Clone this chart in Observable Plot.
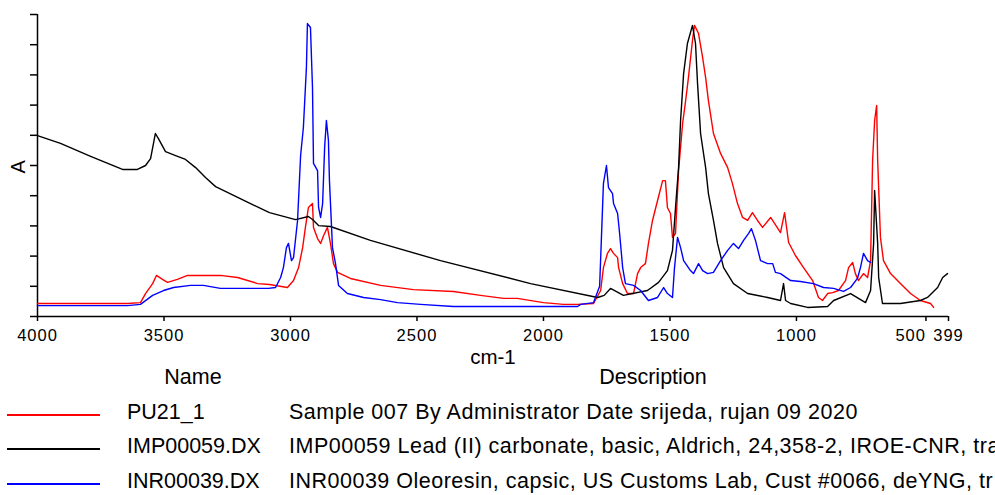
<!DOCTYPE html>
<html>
<head>
<meta charset="utf-8">
<script src="https://cdn.jsdelivr.net/npm/d3@7"></script>
<script src="https://cdn.jsdelivr.net/npm/@observablehq/plot@0.6"></script>
<style>
  body { margin: 0; background: #fff; }
  #wrap { position: relative; width: 995px; height: 495px; overflow: hidden;
          font-family: "Liberation Sans", Arial, sans-serif; color: #000; background: #fff; }
  #wrap svg [aria-label="x-axis tick label"] { letter-spacing: 1px; }
  .lg { position: absolute; white-space: nowrap; font-size: 21.5px; line-height: 21.5px; }
  .lg.desc { letter-spacing: 0.5px; }
  .sw { position: absolute; height: 0; border-top: 2px solid; }
</style>
</head>
<body>
<div id="wrap"></div>
<script>
// ---- Data (wavenumber cm-1, absorbance) ----
const seriesNames = ["PU21_1", "IMP00059.DX", "INR00039.DX"];
const seriesDescriptions = [
  "Sample 007 By Administrator Date srijeda, rujan 09 2020",
  "IMP00059 Lead (II) carbonate, basic, Aldrich, 24,358-2, IROE-CNR, tra",
  "INR00039 Oleoresin, capsic, US Customs Lab, Cust #0066, deYNG, tr"
];
const seriesColors = ["#ff0000", "#000000", "#0000ff"];

const xTickValues = [4000, 3500, 3000, 2500, 2000, 1500, 1000, 500, 399];
const yTickValues = [0, 0.1, 0.2, 0.3, 0.4, 0.5, 0.6, 0.7, 0.8, 0.9, 1.0];

const pu21 = [
  [4000,0.043],[3644,0.043],[3593,0.046],[3573,0.076],[3545,0.109],[3530,0.136],[3506,0.123],[3486,0.113],
  [3447,0.123],[3407,0.136],[3277,0.136],[3209,0.129],[3130,0.109],[3083,0.106],[3012,0.096],[2988,0.119],
  [2968,0.162],[2952,0.228],[2941,0.295],[2929,0.361],[2913,0.374],[2909,0.295],[2893,0.258],[2881,0.242],
  [2869,0.268],[2854,0.295],[2842,0.242],[2830,0.175],[2814,0.146],[2763,0.126],[2644,0.103],[2514,0.089],
  [2356,0.083],[2249,0.070],[2158,0.060],[2103,0.060],[2000,0.046],[1921,0.040],[1865,0.040],[1802,0.043],
  [1774,0.086],[1763,0.162],[1747,0.209],[1735,0.225],[1723,0.209],[1707,0.195],[1703,0.162],[1687,0.109],
  [1668,0.076],[1644,0.076],[1628,0.142],[1616,0.162],[1597,0.175],[1585,0.242],[1569,0.318],[1549,0.384],
  [1529,0.450],[1518,0.450],[1510,0.361],[1498,0.341],[1490,0.262],[1478,0.275],[1466,0.483],[1450,0.639],
  [1438,0.715],[1427,0.791],[1411,0.914],[1403,0.964],[1387,0.937],[1371,0.858],[1359,0.791],[1348,0.715],
  [1328,0.606],[1300,0.540],[1272,0.493],[1253,0.440],[1233,0.374],[1213,0.328],[1193,0.318],[1174,0.344],
  [1154,0.318],[1134,0.295],[1102,0.328],[1063,0.278],[1047,0.344],[1031,0.245],[1004,0.202],[972,0.162],
  [936,0.119],[913,0.063],[897,0.053],[877,0.076],[857,0.079],[834,0.086],[806,0.119],[794,0.162],
  [778,0.179],[767,0.142],[755,0.119],[735,0.142],[719,0.129],[707,0.185],[699,0.517],[691,0.649],
  [683,0.699],[679,0.517],[668,0.262],[656,0.185],[628,0.142],[589,0.109],[549,0.076],[510,0.053],
  [470,0.043],[458,0.030]
];

const imp00059 = [
  [4000,0.599],[3909,0.573],[3790,0.530],[3664,0.487],[3605,0.487],[3573,0.500],[3553,0.523],[3534,0.606],
  [3522,0.589],[3494,0.546],[3454,0.533],[3415,0.520],[3375,0.493],[3336,0.460],[3296,0.430],[3158,0.374],
  [3083,0.344],[2980,0.321],[2929,0.331],[2913,0.321],[2889,0.301],[2842,0.298],[2684,0.252],[2407,0.185],
  [2051,0.109],[1786,0.063],[1760,0.070],[1735,0.093],[1684,0.070],[1589,0.086],[1545,0.113],[1510,0.152],
  [1490,0.219],[1478,0.361],[1466,0.493],[1458,0.649],[1446,0.805],[1431,0.904],[1411,0.964],[1399,0.904],
  [1391,0.772],[1379,0.606],[1359,0.493],[1348,0.407],[1328,0.318],[1312,0.242],[1288,0.162],[1249,0.109],
  [1193,0.076],[1114,0.063],[1063,0.053],[1051,0.109],[1043,0.053],[1023,0.043],[956,0.030],[877,0.033],
  [853,0.053],[786,0.076],[727,0.046],[707,0.086],[695,0.242],[691,0.417],[679,0.242],[675,0.129],
  [660,0.043],[589,0.043],[510,0.053],[482,0.063],[442,0.096],[422,0.129],[403,0.142]
];

const inr00039 = [
  [4000,0.036],[3644,0.036],[3593,0.040],[3545,0.070],[3502,0.086],[3462,0.096],[3395,0.103],[3344,0.103],
  [3277,0.093],[3087,0.093],[3059,0.096],[3039,0.129],[3028,0.162],[3016,0.228],[3008,0.242],[2996,0.185],
  [2988,0.195],[2972,0.318],[2960,0.533],[2949,0.626],[2937,0.825],[2933,0.970],[2921,0.957],[2913,0.758],
  [2909,0.507],[2893,0.483],[2889,0.361],[2881,0.328],[2873,0.374],[2865,0.560],[2858,0.649],[2850,0.583],
  [2846,0.450],[2834,0.228],[2822,0.175],[2810,0.103],[2775,0.076],[2711,0.063],[2644,0.056],[2577,0.046],
  [2486,0.040],[2356,0.033],[1865,0.033],[1853,0.040],[1802,0.046],[1778,0.100],[1763,0.440],[1751,0.500],
  [1743,0.427],[1727,0.407],[1723,0.374],[1707,0.341],[1699,0.275],[1687,0.162],[1676,0.109],[1644,0.103],
  [1616,0.086],[1585,0.053],[1549,0.063],[1525,0.096],[1510,0.076],[1490,0.063],[1482,0.162],[1470,0.262],
  [1458,0.228],[1446,0.185],[1419,0.152],[1407,0.142],[1387,0.175],[1371,0.152],[1351,0.142],[1328,0.146],
  [1300,0.185],[1272,0.219],[1249,0.242],[1229,0.225],[1209,0.252],[1189,0.275],[1178,0.291],[1162,0.252],
  [1142,0.185],[1114,0.175],[1094,0.175],[1083,0.146],[1063,0.142],[1023,0.119],[984,0.116],[933,0.109],
  [893,0.096],[853,0.093],[814,0.083],[786,0.096],[759,0.126],[747,0.162],[735,0.209],[719,0.185],[707,0.179]
];

const seriesData = [pu21, imp00059, inr00039];

// ---- Chart ----
const font = '"Liberation Sans", Arial, sans-serif';
const chart = Plot.plot({
  width: 995,
  height: 370,
  marginLeft: 37,
  marginRight: 47,
  marginTop: 14,
  marginBottom: 54,
  style: { fontFamily: font, fontSize: "16.5px", color: "#000", background: "#fff", overflow: "visible" },
  x: { domain: [4000, 399] },
  y: { domain: [0, 1] },
  marks: [
    Plot.axisY({ ticks: yTickValues, tickSize: 7, tickFormat: () => "", label: null, strokeWidth: 1.5 }),
    Plot.axisX({ ticks: xTickValues.filter(t => t !== 500), tickSize: 5, tickPadding: 8,
                 tickFormat: d => String(d), label: null, strokeWidth: 1.5 }),
    Plot.axisX({ ticks: [500], tickSize: 5, tickPadding: 8, textAnchor: "end", dx: 3,
                 tickFormat: d => String(d), label: null, strokeWidth: 1.5 }),
    Plot.ruleY([0], { strokeWidth: 1.5 }),
    Plot.ruleX([4000], { strokeWidth: 1.5 }),
    ...seriesData.map((s, i) => Plot.line(s, { x: d => d[0], y: d => d[1], stroke: seriesColors[i], strokeWidth: 1.4 })),
    Plot.text(["cm-1"], { text: d => d, frameAnchor: "bottom", dy: 47, lineAnchor: "bottom", fontSize: 20.5 }),
    Plot.text(["A"], { text: d => d, frameAnchor: "left", dx: -19, dy: 8, rotate: -90, fontSize: 20 })
  ]
});
const wrap = document.getElementById("wrap");
wrap.appendChild(chart);

// ---- Legend (below the chart) ----
function addText(txt, left, top, anchorCenter, extraClass) {
  const d = document.createElement("div");
  d.className = "lg" + (extraClass ? " " + extraClass : "");
  d.textContent = txt;
  d.style.top = top + "px";
  d.style.left = left + "px";
  if (anchorCenter) d.style.transform = "translateX(-50%)";
  wrap.appendChild(d);
}
addText("Name", 193, 367, true);
addText("Description", 653, 367, true);
const rowTops = [402, 436, 471];
const swatchY = [414, 448, 483];
seriesNames.forEach((n, i) => {
  const sw = document.createElement("div");
  sw.className = "sw";
  sw.style.left = "7px"; sw.style.width = "93px"; sw.style.top = swatchY[i] + "px";
  sw.style.borderTopColor = seriesColors[i];
  wrap.appendChild(sw);
  addText(n, 127, rowTops[i], false);
  addText(seriesDescriptions[i], 289, rowTops[i], false, "desc");
});
</script>
</body>
</html>
